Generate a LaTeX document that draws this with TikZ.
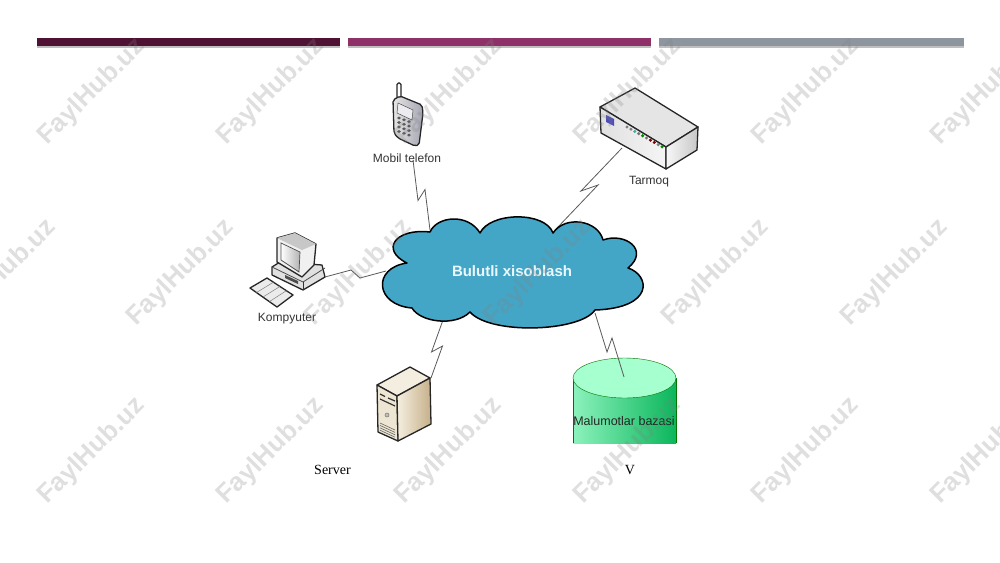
\documentclass[tikz,border=0pt]{standalone}
\usepackage{fontspec}
\setmainfont{Liberation Sans}
\newfontfamily\serverfont{Liberation Serif}
\usetikzlibrary{calc}
\definecolor{barA}{HTML}{4F1235}
\definecolor{barB}{HTML}{8E3168}
\definecolor{barC}{HTML}{8D969F}
\definecolor{cloudblue}{HTML}{44A6C6}
\definecolor{bazaTop}{HTML}{A6FFCF}
\definecolor{bazaLeft}{HTML}{8CF2BC}
\definecolor{bazaRight}{HTML}{0BB65C}
\definecolor{serverTop}{HTML}{F3EEE0}
\definecolor{serverFront}{HTML}{EDE6D2}
\definecolor{serverSideA}{HTML}{F5EFDF}
\definecolor{serverSideB}{HTML}{C6B08A}
\tikzset{%
  zig/.style={to path={-- ($(\tikztostart)!.5!(\tikztotarget)+#1$) -- ($(\tikztostart)!.5!(\tikztotarget)-#1$) -- (\tikztotarget)}},
  bolt/.style={color=black!65,line width=0.8pt},
  outline/.style={draw=black!85,line width=1.3pt,line join=round},
  caption/.style={font=\fontsize{12}{14}\selectfont,text=black!80,inner sep=0pt},
  serif label/.style={font=\fontsize{14}{16}\selectfont\serverfont,inner sep=0pt},
  mark text/.style={font=\fontsize{26}{28}\selectfont\bfseries,text=black!50,rotate=45,inner sep=0pt,opacity=.25}
}
\begin{document}
\begin{tikzpicture}[x=1pt,y=-1pt]
    \useasboundingbox (0,0) rectangle (1000,562);
    % top bars
    \fill[black!25] (37,42) rectangle (340,48);
    \fill[black!25] (348,42) rectangle (651,48);
    \fill[black!25] (659,42) rectangle (964,48);
    \fill[barA] (37,38) rectangle (340,46);
    \fill[barB] (348,38) rectangle (651,46);
    \fill[barC] (659,38) rectangle (964,46);
    % phone
    \draw[outline,fill=white,rounded corners=1.5pt] (397,97) -- (397,83) -- (401,83) -- (401,98);
    \draw[outline,left color=black!10,right color=blue!15!black!35,rounded corners=2pt] (393,100) -- (400,96) -- (422,105) -- (423,113) -- (419,145) -- (415,146) -- (398,138) -- (394,133) -- cycle;
    \fill[blue!25!black!8,draw=black!70,line width=.5pt] (398,103) -- (413,110) -- (412,120) -- (397,113) -- cycle;
    \foreach \row in {0,1,2,3}
      \foreach \col in {0,1,2}
        \fill[black!65] ({399+\col*5},{118+\row*4.5+\col*1.8}) ellipse (1.9 and 1.5);
    \node[caption] (telefon) at (407,158) {Mobil telefon};
    \coordinate (telefonEnd) at (413,160);
    % network box
    \draw[outline,fill=black!10] (600,107) -- (635,88) -- (698,127) -- (666,147) -- cycle;
    \draw[outline,left color=black!12,right color=black!4] (600,107) -- (666,147) -- (666,169) -- (601,133) -- cycle;
    \draw[outline,left color=black!3,right color=black!22] (666,147) -- (698,127) -- (697,150) -- (666,169) -- cycle;
    \fill[blue!60!black!70] (606,115) -- (614,119) -- (614,126) -- (606,122) -- cycle;
    \foreach \i/\c in {0/black!50,1/black!50,2/teal!70,3/black!55,4/green!55!black,5/black!55,6/red!50!black,7/red!50!black,8/black!50,9/green!55!black}
      \fill[\c] ({627+\i*3.9},{127+\i*2.2}) circle (1.7);
    \node[caption] (tarmoq) at (649,182) {Tarmoq};
    \coordinate (tarmoqEnd) at (622,148);
    % computer
    \draw[outline,fill=black!12] (272,267) -- (280,262) -- (322,265) -- (325,277) -- (303,290) -- (272,275) -- cycle;
    \draw[black!70,line width=.8pt] (272,267) -- (303,282) -- (325,268);
    \draw[black!80,line width=.8pt] (303,282) -- (303,290);
    \fill[black!70] (285,275) -- (298,281) -- (298,284) -- (285,278) -- cycle;
    \draw[outline,fill=black!6] (277,238) -- (295,233) -- (316,244) -- (314,265) -- (302,277) -- (277,262) -- cycle;
    \fill[black!22] (277,238) -- (295,233) -- (316,244) -- (302,250) -- cycle;
    \draw[black!70,line width=.7pt,left color=white,right color=black!30] (281,243) -- (300,252) -- (299,272) -- (281,260) -- cycle;
    \draw[outline,fill=black!8] (250,288) -- (267,278) -- (293,295) -- (277,307) -- cycle;
    \foreach \i in {1,2,3}
      \draw[black!50,line width=.5pt] ({250+\i*6.5},{288+\i*4.5}) -- ({267+\i*6.5},{278+\i*4.2});
    \node[caption] (kompyuter) at (287,319) {Kompyuter};
    \coordinate (kompyuterEnd) at (325,277);
    % server
    \draw[outline,fill=serverTop] (410,367) -- (430,378) -- (397,396) -- (377,385) -- cycle;
    \draw[outline,fill=serverFront] (377,385) -- (397,396) -- (398,441) -- (378,432) -- cycle;
    \draw[outline,left color=serverSideA,right color=serverSideB] (397,396) -- (430,378) -- (431,424) -- (398,441) -- cycle;
    \draw[black!80,line width=1.2pt] (380,394) -- (385,396.5) (388,398) -- (395,401);
    \draw[black!80,line width=1.2pt] (380,399) -- (395,406);
    \draw[black!55,fill=black!25,line width=.5pt] (387,415) circle (2);
    \foreach \i in {0,1,2,3}
      \draw[black!60,line width=.6pt] (380,{423+\i*2.4}) -- (395,{430+\i*2.4});
    \node[serif label] (server) at (332.5,470) {Server};
    \coordinate (serverEnd) at (431,378);
    % database
    \shade[left color=bazaLeft,right color=bazaRight] (573,378) -- (573,443) -- (676,443) -- (676,378) -- cycle;
    \draw[green!45!black,line width=.4pt] (573,378) -- (573,443) (676,443) -- (676,378);
    \fill[bazaTop,draw=green!45!black,line width=.4pt] (624.5,378) ellipse (51.5 and 20);
    \node[font=\fontsize{12.5}{14}\selectfont,text=black!85,inner sep=0pt] (baza) at (624,421) {Malumotlar bazasi};
    \node[serif label] (vLabel) at (630,470) {V};
    \coordinate (bazaEnd) at (624,377);
    % connectors
    \coordinate (cloudT) at (430,230);
    \coordinate (cloudR) at (557,228);
    \coordinate (cloudL) at (386,271);
    \coordinate (cloudB) at (443,320);
    \coordinate (cloudD) at (595,313);
    \draw[bolt] (telefonEnd) to[zig={(-3.5,5.5)}] (cloudT);
    \draw[bolt] (tarmoqEnd) to[zig={(-8.5,3)}] (cloudR);
    \draw[bolt] (kompyuterEnd) to[zig={(-4.5,-4)}] (cloudL);
    \draw[bolt] (serverEnd) to[zig={(5.5,-3)}] (cloudB);
    \draw[bolt] (bazaEnd) to[zig={(2.5,-7)}] (cloudD);
    % cloud
    \draw[fill=cloudblue,draw=black,line width=1.5pt,line join=round] (430,232)
      .. controls (437,216) and (468,213) .. (480,233)
      .. controls (490,212) and (545,211) .. (553,233)
      .. controls (565,215) and (598,220) .. (603,240)
      .. controls (625,232) and (650,250) .. (628,268)
      .. controls (650,275) and (655,308) .. (595,310)
      .. controls (580,332) and (490,335) .. (470,312)
      .. controls (455,327) and (420,322) .. (412,308)
      .. controls (375,305) and (372,268) .. (407,263)
      .. controls (380,250) and (395,228) .. (430,232) -- cycle;
    \node[font=\fontsize{15}{17}\selectfont\bfseries,text=white!92!cyan,inner sep=0pt] (bulut) at (512,271) {Bulutli xisoblash};
    % watermark
    \foreach \wx in {92,271,449,628,806,985} {
      \node[mark text] (wmA\wx) at (\wx,92) {FaylHub.uz};
      \node[mark text] (wmC\wx) at (\wx,451) {FaylHub.uz};
    }
    \foreach \wx in {3,181,359,538,716,895}
      \node[mark text] (wmB\wx) at (\wx,273) {FaylHub.uz};
\end{tikzpicture}
\end{document}
